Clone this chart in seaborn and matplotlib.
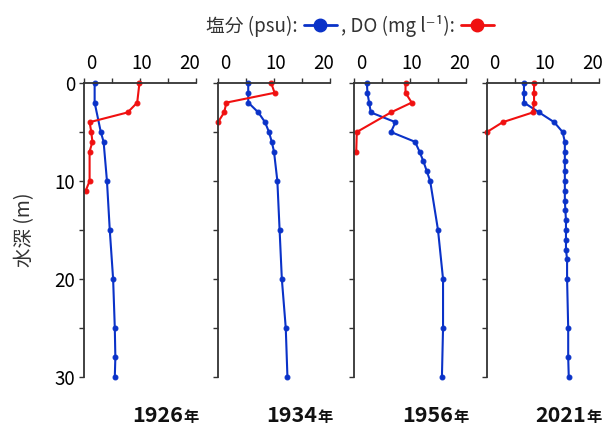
import numpy as np
import pandas as pd
import matplotlib
matplotlib.use("Agg")
import matplotlib.pyplot as plt
import matplotlib.transforms as mtrans
import seaborn as sns
from matplotlib.lines import Line2D

# --- data ---
years = ["1926", "1934", "1956", "2021"]

sal_depth_1926 = [0, 2, 5, 6, 10, 15, 20, 25, 28, 30]
sal_1926 = [1.9, 1.9, 3.0, 3.5, 4.1, 4.6, 5.2, 5.5, 5.6, 5.5]
do_depth_1926 = [0, 2, 3, 4, 5, 6, 7, 10, 11]
do_1926 = [9.9, 9.5, 7.8, 1.0, 1.3, 1.5, 1.0, 1.0, 0.3]

sal_depth_1934 = [0, 1, 2, 3, 4, 5, 6, 7, 10, 15, 20, 25, 30]
sal_1934 = [5.4, 5.4, 5.4, 7.2, 8.4, 9.1, 9.6, 10.0, 10.6, 11.0, 11.4, 12.1, 12.4]
do_depth_1934 = [0, 1, 2, 3, 4]
do_1934 = [9.5, 10.1, 1.5, 1.1, 0.0]

sal_depth_1956 = [0, 1, 2, 3, 4, 5, 6, 7, 8, 9, 10, 15, 20, 25, 30]
sal_1956 = [2.3, 2.4, 2.7, 3.0, 7.4, 6.6, 10.9, 11.7, 12.4, 13.0, 13.6, 15.0, 15.9, 15.9, 15.7]
do_depth_1956 = [0, 1, 2, 3, 5, 7]
do_1956 = [9.2, 9.2, 10.3, 6.6, 0.5, 0.4]

sal_depth_2021 = [0, 1, 2, 3, 4, 5, 6, 7, 8, 9, 10, 11, 12, 13, 14, 15, 16, 17, 18, 20, 25, 28, 30]
sal_2021 = [6.6, 6.6, 6.6, 9.3, 12.0, 13.5, 13.9, 13.9, 13.9, 13.9, 13.9, 13.9, 13.9,
            14.0, 14.1, 14.1, 14.1, 14.1, 14.3, 14.3, 14.5, 14.5, 14.6]
do_depth_2021 = [0, 1, 2, 3, 4, 5]
do_2021 = [8.4, 8.4, 8.4, 8.2, 2.8, 0.0]

sal_series = {"1926": (sal_depth_1926, sal_1926), "1934": (sal_depth_1934, sal_1934),
              "1956": (sal_depth_1956, sal_1956), "2021": (sal_depth_2021, sal_2021)}
do_series = {"1926": (do_depth_1926, do_1926), "1934": (do_depth_1934, do_1934),
             "1956": (do_depth_1956, do_1956), "2021": (do_depth_2021, do_2021)}

BLUE = "#0a32c8"
RED = "#f01010"
AXC = "#333333"

sns.set_theme(style="white")
plt.rcParams["font.family"] = ["Noto Sans CJK JP", "DejaVu Sans"]
plt.rcParams["axes.unicode_minus"] = False

fig = plt.figure(figsize=(6.06, 4.26), dpi=100)
W, H = 606, 426
lefts = [84, 218, 354, 487]
pw = 112
top_px, bot_px = 83, 377
# small horizontal nudges (px) of the top tick labels, as in the original
label_shift = {0: 7, 2: 2, 4: -6}

for i, yr in enumerate(years):
    ax = fig.add_axes([lefts[i] / W, 1 - bot_px / H, pw / W, (bot_px - top_px) / H])
    d, v = sal_series[yr]
    df_s = pd.DataFrame({"depth": d, "value": v})
    d, v = do_series[yr]
    df_d = pd.DataFrame({"depth": d, "value": v})
    sns.lineplot(data=df_s, x="value", y="depth", sort=False, estimator=None,
                 color=BLUE, lw=1.5, marker="o", ms=3.5, mec=BLUE, ax=ax, clip_on=False)
    sns.lineplot(data=df_d, x="value", y="depth", sort=False, estimator=None,
                 color=RED, lw=1.5, marker="o", ms=3.5, mec=RED, ax=ax, clip_on=False)
    ax.set_xlim(0, 20)
    ax.set_ylim(30, 0)
    ax.xaxis.tick_top()
    ax.set_xticks([0, 5, 10, 15, 20])
    ax.set_xticklabels(["0", "", "10", "", "20"])
    ax.set_yticks([0, 5, 10, 15, 20, 25, 30])
    if i == 0:
        ax.set_yticklabels(["0", "", "10", "", "20", "", "30"])
    else:
        ax.set_yticklabels([])
    ax.tick_params(axis="both", direction="out", length=3.5, width=1, color=AXC,
                   labelsize=13.5, labelcolor="black", pad=3, top=True, bottom=False,
                   left=True, right=False)
    for k, lab in enumerate(ax.get_xticklabels()):
        if k in label_shift:
            off = mtrans.ScaledTranslation(label_shift[k] / 100, 0, fig.dpi_scale_trans)
            lab.set_transform(lab.get_transform() + off)
    ax.set_xlabel("")
    ax.set_ylabel("")
    for s in ["right", "bottom"]:
        ax.spines[s].set_visible(False)
    for s in ["left", "top"]:
        ax.spines[s].set_color(AXC)
        ax.spines[s].set_linewidth(1.3)
    ax.patch.set_alpha(0)
    # year label, 年 smaller
    xr = (lefts[i] + pw + 6) / W
    fig.text(xr - 19 / W, 1 - 415 / H, yr, ha="right", va="center",
             fontsize=15.5, fontweight="bold", color="#111111")
    fig.text(xr - 19 / W, 1 - 417 / H, "年", ha="left", va="center",
             fontsize=11, fontweight="bold", color="#111111")

fig.text(25 / W, 1 - 230 / H, "水深 (m)", rotation=90, ha="center", va="center",
         fontsize=14, color="#333333")

handles = [Line2D([], [], color=BLUE, lw=2, marker="o", ms=9),
           Line2D([], [], color=RED, lw=2, marker="o", ms=9)]
labels = ["塩分 (psu):", ", DO (mg l⁻¹):"]
fig.legend(handles, labels, loc="center", bbox_to_anchor=(0.578, 0.94), ncol=2,
           markerfirst=False, frameon=False, fontsize=13.5, handlelength=1.8,
           handletextpad=0.3, columnspacing=0.2, labelcolor="#333333")

fig.savefig("out.png", dpi=100)
